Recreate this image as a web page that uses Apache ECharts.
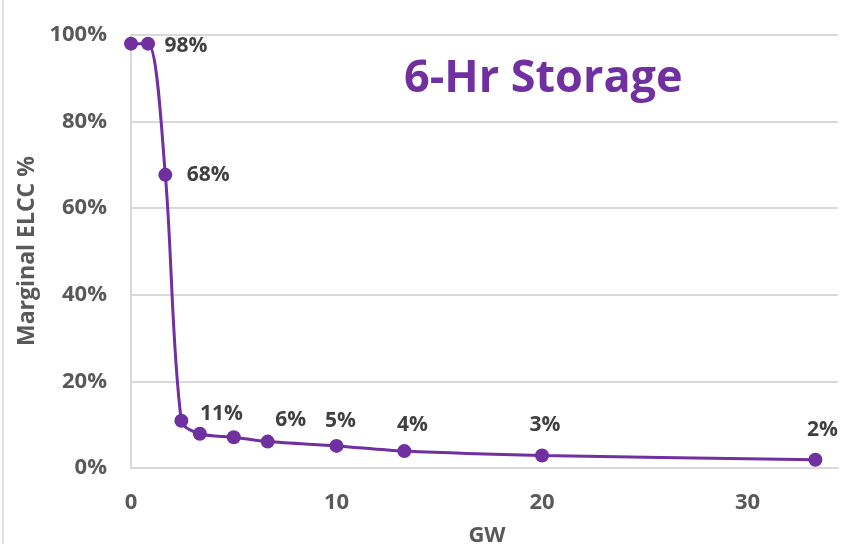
<!DOCTYPE html>
<html>
<head>
<meta charset="utf-8">
<script src="https://cdn.jsdelivr.net/npm/echarts@6/dist/echarts.min.js"></script>
<style>html,body{margin:0;padding:0;background:#fff;}#c{width:841px;height:544px;}</style>
</head>
<body>
<div id="c"></div>
<script>
// Data
const gw = [0, 0.83, 1.67, 2.45, 3.35, 5, 6.65, 10, 13.3, 20, 33.3];
const elcc = [98, 98, 67.7, 10.9, 7.9, 7.1, 6.1, 5.1, 3.9, 2.9, 1.9];
const labelText = ['', '98%', '68%', '11%', '', '', '6%', '5%', '4%', '3%', '2%'];
const labelOffset = [null, [38, 2], [43, 0], [40, -7], null, null, [23, -22], [4, -25], [8, -26], [3, -30], [7, -30]];
const yTicks = [0, 20, 40, 60, 80, 100];
const xTicks = [0, 10, 20, 30];

const purple = '#7030A0';
const font = '"Open Sans", "Noto Sans", sans-serif';

const chart = echarts.init(document.getElementById('c'), null, {renderer: 'canvas'});

const seriesData = gw.map((x, i) => {
  const d = {value: [x, elcc[i]]};
  if (labelText[i]) {
    d.label = {
      show: true,
      position: 'inside',
      offset: labelOffset[i],
      formatter: labelText[i],
      color: '#404040',
      fontFamily: font,
      fontWeight: 'bold',
      fontSize: 21,
      align: 'center',
      verticalAlign: 'middle'
    };
  }
  return d;
});

chart.setOption({
  animation: false,
  backgroundColor: '#fff',
  textStyle: {fontFamily: font},
  title: {
    text: '6-Hr Storage',
    left: 399,
    top: 52,
    textStyle: {color: purple, fontFamily: font, fontWeight: 'bold', fontSize: 45}
  },
  graphic: [{
    type: 'line',
    shape: {x1: 3, y1: 0, x2: 3, y2: 544},
    style: {stroke: '#d9d9d9', lineWidth: 1.5},
    silent: true
  }, {
    type: 'text',
    x: 487, y: 536,
    style: {text: 'GW', fill: '#595959', font: 'bold 22px ' + font, align: 'center', verticalAlign: 'middle'},
    silent: true
  }, {
    type: 'text',
    x: 27, y: 251,
    rotation: Math.PI / 2,
    style: {text: 'Marginal ELCC %', fill: '#595959', font: 'bold 23px ' + font, align: 'center', verticalAlign: 'middle'},
    silent: true
  }],
  grid: {left: 131, right: 3, top: 35, bottom: 76, containLabel: false, outerBoundsMode: 'none'},
  xAxis: {
    type: 'value',
    min: 0,
    max: 34.4,
    interval: 10,
    axisLine: {show: true, lineStyle: {color: '#d9d9d9', width: 2}},
    axisTick: {show: false},
    splitLine: {show: false},
    axisLabel: {
      color: '#595959', fontFamily: font, fontWeight: 'bold', fontSize: 22, margin: 24,
      showMaxLabel: false,
      formatter: v => (xTicks.indexOf(v) >= 0 ? String(v) : '')
    }
  },
  yAxis: {
    type: 'value',
    min: 0,
    max: 100,
    interval: 20,
    axisLine: {show: true, lineStyle: {color: '#d9d9d9', width: 2}},
    axisTick: {show: false},
    splitLine: {show: true, lineStyle: {color: '#d9d9d9', width: 2}},
    axisLabel: {
      color: '#595959', fontFamily: font, fontWeight: 'bold', fontSize: 22, margin: 24,
      formatter: v => (yTicks.indexOf(v) >= 0 ? v + '%' : '')
    }
  },
  series: [{
    type: 'line',
    data: seriesData,
    smooth: 0.3,
    symbol: 'circle',
    symbolSize: 14,
    lineStyle: {color: purple, width: 3},
    itemStyle: {color: purple},
    z: 3
  }]
});
</script>
</body>
</html>
